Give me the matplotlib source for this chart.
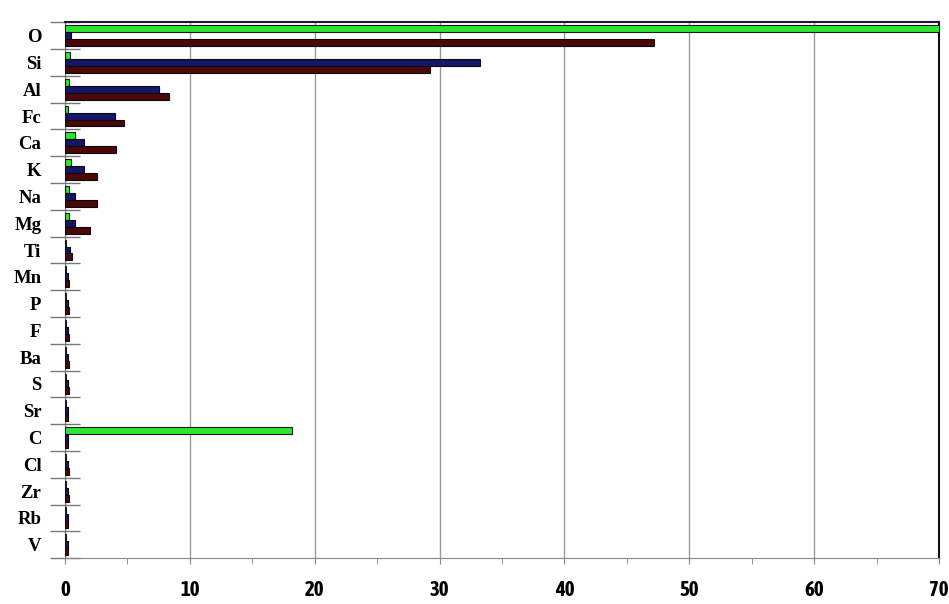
import matplotlib
matplotlib.use("Agg")
import matplotlib.pyplot as plt
import numpy as np
from matplotlib.ticker import MultipleLocator, FixedLocator
from matplotlib import font_manager

elements = ["O", "Si", "Al", "Fc", "Ca", "K", "Na", "Mg", "Ti", "Mn",
            "P", "F", "Ba", "S", "Sr", "C", "Cl", "Zr", "Rb", "V"]

# three series per element (percent)
series_green = [70.5, 0.4, 0.3, 0.2, 0.8, 0.5, 0.3, 0.3, 0.1, 0.1,
                0.1, 0.1, 0.1, 0.1, 0.1, 18.2, 0.1, 0.1, 0.1, 0.1]
series_blue = [0.5, 33.2, 7.5, 4.0, 1.5, 1.5, 0.8, 0.8, 0.4, 0.2,
               0.2, 0.2, 0.2, 0.2, 0.2, 0.2, 0.2, 0.2, 0.2, 0.2]
series_red = [47.2, 29.2, 8.3, 4.7, 4.1, 2.6, 2.6, 2.0, 0.6, 0.3,
              0.3, 0.3, 0.3, 0.3, 0.2, 0.2, 0.3, 0.3, 0.2, 0.2]

x_ticks = [0, 10, 20, 30, 40, 50, 60, 70]

# pick a narrow bold face for the numeric axis if one is installed
narrow = None
for f in font_manager.fontManager.ttflist:
    if ("Narrow" in f.name or "Condensed" in f.name) and f.weight in (700, "bold"):
        narrow = f.fname
        break
if narrow is None:
    for f in font_manager.fontManager.ttflist:
        if "Condensed" in f.fname and "Bold" in f.fname:
            narrow = f.fname
            break

fig = plt.figure(figsize=(9.49, 6.04), dpi=100)
ax = fig.add_axes([0.0685, 0.076, 0.921, 0.888])

y = np.arange(len(elements))
h = 0.26
ax.barh(y - h, series_green, height=h, color="#2ee62e", edgecolor="#1a1a1a", linewidth=0.8, zorder=3)
ax.barh(y, series_blue, height=h, color="#15156a", edgecolor="#0a0a0a", linewidth=0.8, zorder=3)
ax.barh(y + h, series_red, height=h, color="#4a0808", edgecolor="#0a0a0a", linewidth=0.8, zorder=3)

ax.set_xlim(0, 70)
ax.set_ylim(len(elements) - 0.5, -0.52)

ax.set_xticks(x_ticks)
ax.xaxis.set_minor_locator(MultipleLocator(5))
if narrow:
    fp = font_manager.FontProperties(fname=narrow, size=15)
    ax.set_xticklabels([str(v) for v in x_ticks], fontproperties=fp)
else:
    ax.set_xticklabels([str(v) for v in x_ticks], family="DejaVu Sans",
                       fontweight="bold", fontsize=12, fontstretch="condensed")
ax.tick_params(axis="x", which="both", direction="out", length=4, pad=12, color="#888888")

ax.set_yticks(y)
ax.set_yticklabels(elements, family=["Liberation Serif", "DejaVu Serif"], fontweight="bold", fontsize=13.5)
ax.tick_params(axis="y", which="major", length=0, pad=17)
ax.yaxis.set_minor_locator(FixedLocator(np.arange(len(elements) + 1) - 0.5))
ax.tick_params(axis="y", which="minor", direction="inout", length=22, color="#777777", width=1)

ax.grid(axis="x", which="major", color="#999999", linewidth=1, zorder=0)
ax.set_axisbelow(True)

ax.spines["top"].set_color("#1a1a3a")
ax.spines["top"].set_linewidth(1.5)
ax.spines["right"].set_color("#111111")
ax.spines["right"].set_linewidth(1.5)
ax.spines["left"].set_color("#777777")
ax.spines["bottom"].set_color("#888888")

fig.savefig("out.png", dpi=100)
